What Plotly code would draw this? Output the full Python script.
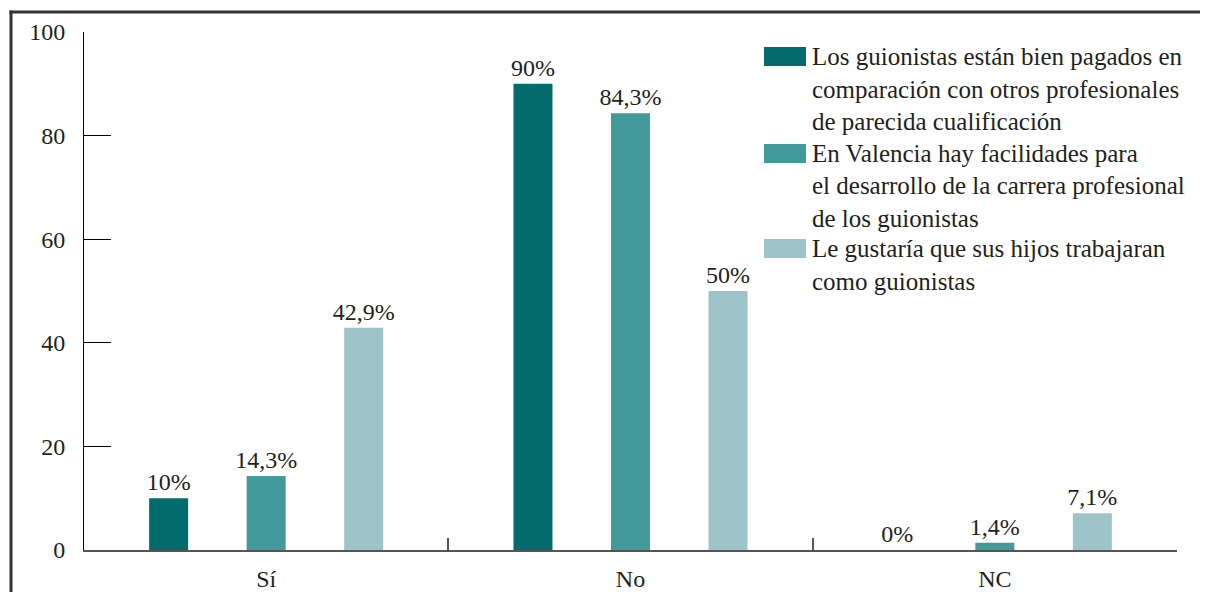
import plotly.graph_objects as go

categories = ["Sí", "No", "NC"]
series_names = [
    "Los guionistas están bien pagados en|comparación con otros profesionales|de parecida cualificación",
    "En Valencia hay facilidades para|el desarrollo de la carrera profesional|de los guionistas",
    "Le gustaría que sus hijos trabajaran|como guionistas",
]
values_pagados = [10, 90, 0]
values_valencia = [14.3, 84.3, 1.4]
values_hijos = [42.9, 50, 7.1]
colors = ["#036b6b", "#429a9b", "#9dc4c8"]
y_ticks = [0, 20, 40, 60, 80, 100]

# page body has an 8px margin: work in screen pixels, then shift
OFF = 8
SW, SH = 1208, 592
W, H = SW - OFF, SH - OFF
# plot area in screen pixels
X0, X1, Y0, Y1 = 84, 1177, 32, 550
L, R, T, B = X0 - OFF, SW - X1, Y0 - OFF, SH - Y1
pw, ph = X1 - X0, Y1 - Y0

def px(x):
    return (x - X0) / pw

def py(y):
    return (Y1 - y) / ph

FONT = "Liberation Serif"
TXT = "#231f20"

def fmt(v):
    s = f"{v:g}".replace(".", ",")
    return s + "%"

fig = go.Figure()
for name, vals, col in zip(series_names, [values_pagados, values_valencia, values_hijos], colors):
    fig.add_trace(go.Bar(
        x=categories, y=vals, name=name.replace("|", " "),
        marker=dict(color=col, line=dict(width=0)),
        text=[fmt(v) for v in vals], textposition="outside",
        textfont=dict(family=FONT, size=24, color=TXT),
        cliponaxis=False, showlegend=False,
    ))

# custom legend (swatches + text lines)
swatch_tops = [47, 144, 239]
line_h = 32.5
shapes = []
annotations = []
for i, (name, col) in enumerate(zip(series_names, colors)):
    top = swatch_tops[i]
    shapes.append(dict(type="rect", xref="paper", yref="paper",
                       x0=px(764), x1=px(806), y0=py(top), y1=py(top + 19),
                       fillcolor=col, line=dict(width=0)))
    for j, line in enumerate(name.split("|")):
        cy = top + 9.5 + j * line_h
        annotations.append(dict(xref="paper", yref="paper", x=px(810), y=py(cy),
                                xanchor="left", yanchor="middle", text=line, showarrow=False,
                                font=dict(family=FONT, size=25, color=TXT)))

# frame lines (top and left)
shapes.append(dict(type="line", xref="paper", yref="paper",
                   x0=px(9.5), x1=px(1215), y0=py(12), y1=py(12),
                   line=dict(color="#333333", width=3)))
shapes.append(dict(type="line", xref="paper", yref="paper",
                   x0=px(11), x1=px(11), y0=py(10.5), y1=py(600),
                   line=dict(color="#333333", width=3)))

fig.update_layout(
    width=W, height=H,
    margin=dict(l=L, r=R, t=T, b=B, autoexpand=False),
    paper_bgcolor="white", plot_bgcolor="white",
    barmode="group", bargap=0.197, bargroupgap=0.6,
    font=dict(family=FONT, size=24, color=TXT),
    uniformtext=dict(minsize=24, mode="show"),
    shapes=shapes, annotations=annotations,
)
fig.update_xaxes(
    automargin=False,
    showgrid=False, showline=True, linecolor="#555555", linewidth=2,
    ticks="inside", tickson="boundaries", ticklen=12, tickwidth=2, tickcolor="#555555",
    tickfont=dict(family=FONT, size=24, color=TXT), ticklabelstandoff=6,
)
fig.update_yaxes(
    automargin=False,
    range=[0, 100], tickvals=y_ticks, showgrid=False, zeroline=False,
    showline=True, linecolor="#000000", linewidth=1,
    ticks="inside", ticklen=27, tickwidth=1, tickcolor="#000000",
    tickfont=dict(family=FONT, size=24, color=TXT), ticklabelstandoff=13,
)

fig.write_html("out.html")
